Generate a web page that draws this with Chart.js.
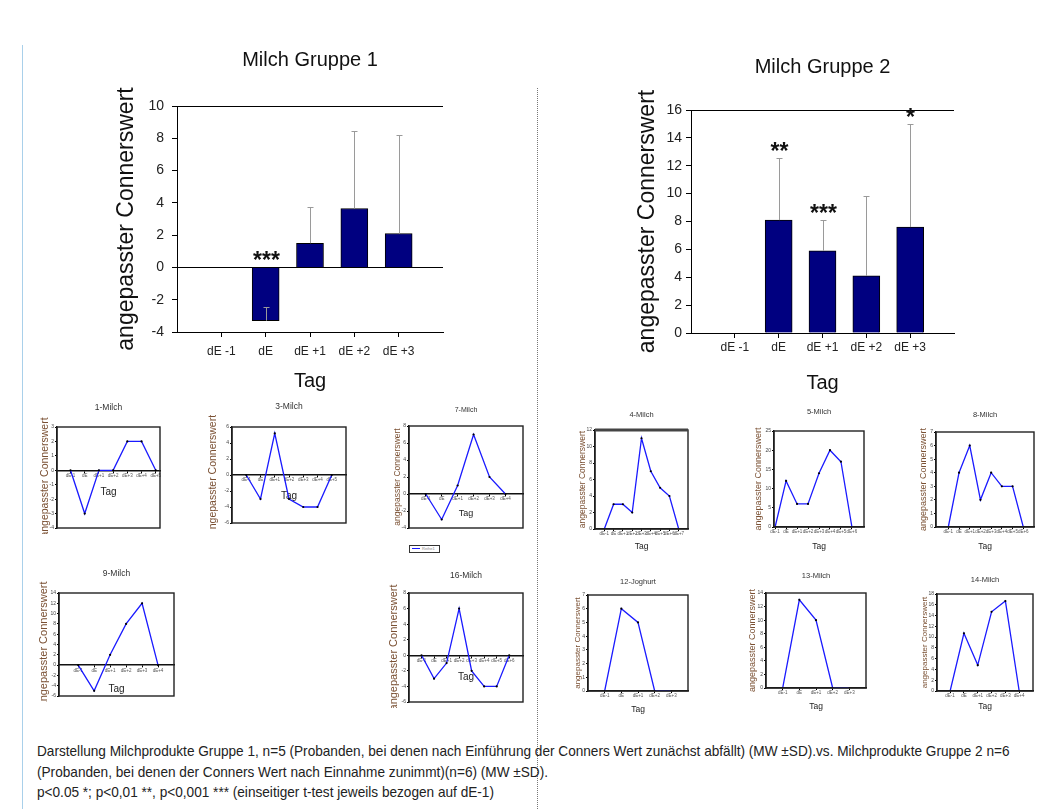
<!DOCTYPE html>
<html>
<head>
<meta charset="utf-8">
<script src="https://cdn.jsdelivr.net/npm/chart.js@4.4.1/dist/chart.umd.min.js"></script>
<style>
  html, body { margin: 0; padding: 0; background: #fff; }
  body { width: 1043px; height: 809px; position: relative; overflow: hidden; font-family: "Liberation Sans", Arial, sans-serif; }
  #stage { position: absolute; left: 0; top: 0; width: 1043px; height: 809px; }
  .margin-line { position: absolute; left: 22px; top: 45px; width: 0; height: 764px; border-left: 1px solid #a9d0ea; }
  .divider { position: absolute; left: 537px; top: 88px; width: 0; height: 721px; border-left: 1px dotted #777; }
  .legend7 { position: absolute; left: 409px; top: 545px; width: 29px; height: 6px; border: 1px solid #333; font-size: 4px; line-height: 6px; color: #888; white-space: nowrap; overflow: hidden; }
  .legend7 .mk { display: inline-block; width: 8px; height: 1px; background: #1a1aff; vertical-align: middle; margin: 0 2px 0 2px; }
  .caption { position: absolute; left: 37px; top: 741px; font-size: 15px; line-height: 20.5px; color: #222; white-space: nowrap; transform: scaleX(0.908); transform-origin: 0 0; }
</style>
</head>
<body>
<div id="stage">
  <div class="margin-line"></div>
  <div class="divider"></div>
  <div class="legend7"><span class="mk"></span>Reihe1</div>
  <div class="caption">
    Darstellung Milchprodukte Gruppe 1, n=5 (Probanden, bei denen nach Einführung der Conners Wert zunächst abfällt) (MW ±SD).vs. Milchprodukte Gruppe 2 n=6<br>
    (Probanden, bei denen der Conners Wert nach Einnahme zunimmt)(n=6) (MW ±SD).<br>
    p&lt;0.05 *; p&lt;0,01 **, p&lt;0,001 *** (einseitiger t-test jeweils bezogen auf dE-1)
  </div>
</div>
<script>
// ─── DATA ─────────────────────────────────────────────────────────────────
const MAIN_DAYS = ['dE -1', 'dE', 'dE +1', 'dE +2', 'dE +3'];

// Gruppe 1 (MW, obere SD-Grenze, Signifikanz)
const g1Mean = [null, -3.3, 1.5, 3.65, 2.1];
const g1SdTop = [null, -2.45, 3.75, 8.45, 8.2];
const g1Stars = ['', '***', '', '', ''];

// Gruppe 2
const g2Mean = [null, 8.1, 5.9, 4.1, 7.6];
const g2SdTop = [null, 12.55, 8.1, 9.85, 15.0];
const g2Stars = ['', '**', '***', '', '*'];

// Einzelverläufe
const SMALL_DAYS = ['dE-1', 'dE', 'dE+1', 'dE+2', 'dE+3', 'dE+4', 'dE+5', 'dE+6', 'dE+7'];
const milch1 = [0, -3, 0, 0, 2, 2, 0];
const milch3 = [0, -3, 5.2, -3, -4, -4, 0];
const milch7 = [0, -3, 1, 7, 2, 0];
const milch9 = [0, -5, 2, 8, 12, 0];
const milch16 = [0, -3, -1, 6, -2, -4, -4, 0];
const milch4 = [0, 3, 3, 2, 11, 7, 5, 4, 0];
const milch5 = [0, 12, 6, 6, 14, 20, 17, 0];
const milch8 = [0, 4, 6, 2, 4, 3, 3, 0];
const joghurt12 = [0, 6, 5, 0, 0];
const milch13 = [0, 13, 10, 0, 0];
const milch14 = [0, 10.7, 4.8, 14.7, 16.7, 0];

const Y_TITLE = 'angepasster Connerswert';
const SANS = '"Liberation Sans", Arial, sans-serif';

// ─── HELPERS ──────────────────────────────────────────────────────────────
function addCanvas(id, left, top, w, h) {
  const c = document.createElement('canvas');
  c.id = id;
  c.width = w; c.height = h;
  c.style.cssText = `position:absolute;left:${left}px;top:${top}px;width:${w}px;height:${h}px`;
  document.getElementById('stage').appendChild(c);
  return c;
}

const framePlugin = {
  id: 'frame',
  afterDraw(chart, args, o) {
    if (!o || !o.show) return;
    const { ctx, chartArea: a } = chart;
    ctx.save();
    ctx.strokeStyle = o.color || '#222';
    ctx.lineWidth = o.width || 1.5;
    ctx.strokeRect(a.left, a.top, a.right - a.left, a.bottom - a.top);
    if (o.topWidth) {
      ctx.lineWidth = o.topWidth;
      ctx.strokeStyle = '#444';
      ctx.beginPath(); ctx.moveTo(a.left, a.top); ctx.lineTo(a.right, a.top); ctx.stroke();
    }
    ctx.restore();
  }
};

const errorBarPlugin = {
  id: 'errbars',
  afterDatasetsDraw(chart, args, o) {
    const { ctx, scales: { x, y } } = chart;
    ctx.save();
    o.mean.forEach((m, i) => {
      if (m === null) return;
      const px = Math.round(x.getPixelForValue(i)) + 0.5;
      const y0 = y.getPixelForValue(m);
      const y1 = Math.round(y.getPixelForValue(o.top[i])) + 0.5;
      ctx.strokeStyle = '#9a9a9a';
      ctx.lineWidth = 1;
      ctx.beginPath();
      ctx.moveTo(px, y0); ctx.lineTo(px, y1);
      ctx.moveTo(px - 3, y1); ctx.lineTo(px + 3, y1);
      ctx.stroke();
      if (o.stars[i]) {
        const anchor = Math.max(m, o.top[i], 0);
        ctx.fillStyle = '#111';
        ctx.font = `bold 23px ${SANS}`;
        ctx.textAlign = 'center';
        ctx.textBaseline = 'alphabetic';
        ctx.fillText(o.stars[i], px, y.getPixelForValue(anchor) + 1);
      }
    });
    ctx.restore();
  }
};

// ─── MAIN BAR CHARTS ──────────────────────────────────────────────────────
function mainChart(id, s) {
  const [L, T, R, B] = s.plot;
  const titleSize = 20, yTitleSize = 23, tagSize = 20;
  const left = Math.round(s.yTitleX - yTitleSize / 2 - 2);
  const top = Math.round(s.titleY - titleSize / 2 - 2);
  const right = R + 12;
  const bottom = Math.round(s.tagY + tagSize / 2 + 2);
  const ML = L - left, MT = T - top, MB = bottom - B;
  addCanvas(id, left, top, right - left, bottom - top);

  return new Chart(document.getElementById(id), {
    type: 'bar',
    data: {
      datasets: [{
        data: s.mean.map((v, i) => ({ x: i, y: v })),
        backgroundColor: '#000080',
        borderColor: '#000',
        borderWidth: 1,
        barThickness: 27
      }]
    },
    options: {
      responsive: false, animation: false, events: [],
      layout: { padding: { left: 0, top: 0, right: right - R, bottom: 0 } },
      plugins: {
        legend: { display: false },
        tooltip: { enabled: false },
        title: {
          display: true, text: s.title, fullSize: false, color: '#111',
          font: { family: SANS, size: titleSize, weight: 'normal', lineHeight: 1 },
          padding: { top: 2, bottom: MT - 2 - titleSize }
        },
        errbars: { mean: s.mean, top: s.sdTop, stars: s.stars }
      },
      scales: {
        x: {
          type: 'linear', min: -1, max: 5, offset: false,
          afterBuildTicks: sc => { sc.ticks = MAIN_DAYS.map((_, i) => ({ value: i })); },
          afterFit: sc => { sc.height = MB; },
          grid: { drawOnChartArea: false, offset: false, tickLength: 5, tickColor: '#000' },
          border: { display: true, color: '#000', width: 1 },
          ticks: {
            autoSkip: false, maxRotation: 0, padding: s.xPad, color: '#222',
            font: { family: SANS, size: 12, lineHeight: 1 },
            callback: v => MAIN_DAYS[v] ?? ''
          },
          title: {
            display: true, text: 'Tag', color: '#111',
            font: { family: SANS, size: tagSize, lineHeight: 1 }, padding: { top: 0, bottom: 2 }
          }
        },
        y: {
          min: s.yMin, max: s.yMax,
          afterFit: sc => { sc.width = ML; },
          grid: {
            tickLength: 5, tickColor: '#000',
            color: c => (c.tick.value === 0 || c.tick.value === s.yMax) ? '#000' : 'transparent'
          },
          border: { display: true, color: '#000', width: 1 },
          ticks: {
            stepSize: 2, padding: s.yPad, color: '#222',
            font: { family: SANS, size: 14, lineHeight: 1 }
          },
          title: {
            display: true, text: Y_TITLE, color: '#111',
            font: { family: SANS, size: yTitleSize, lineHeight: 1 }, padding: { top: 2, bottom: 0 }
          }
        }
      }
    },
    plugins: [errorBarPlugin]
  });
}

mainChart('main1', {
  title: 'Milch Gruppe 1', mean: g1Mean, sdTop: g1SdTop, stars: g1Stars,
  yMin: -4, yMax: 10, plot: [177, 106, 443, 332],
  titleY: 60, yTitleX: 126, tagY: 381, xPad: 9, yPad: 8
});
mainChart('main2', {
  title: 'Milch Gruppe 2', mean: g2Mean, sdTop: g2SdTop, stars: g2Stars,
  yMin: 0, yMax: 16, plot: [691, 110, 954, 333],
  titleY: 67, yTitleX: 647, tagY: 383, xPad: 4, yPad: 4
});

// ─── SMALL LINE CHARTS ────────────────────────────────────────────────────
function smallChart(id, s) {
  const [L, T, R, B] = s.plot;
  const ts = s.titleSize || 7.5, yts = s.yTitleSize || 9, tag = s.tagSize || 8.5;
  const left = Math.round(s.yTitleX - yts / 2 - 1);
  const top = Math.round(s.titleY - ts / 2 - 1);
  const right = R + 8;
  const bottom = s.zero ? B + 6 : Math.round(s.tagY + tag / 2 + 1);
  const ML = L - left, MT = T - top, MB = bottom - B;
  addCanvas(id, left, top, right - left, bottom - top);
  const labels = SMALL_DAYS.slice(0, s.vals.length);

  return new Chart(document.getElementById(id), {
    type: 'line',
    data: {
      datasets: [{
        data: s.vals.map((v, i) => ({ x: i, y: v })),
        borderColor: '#1a1aff', borderWidth: 1.3, tension: 0,
        pointRadius: 1.1, pointBackgroundColor: '#000', pointBorderWidth: 0
      }]
    },
    options: {
      responsive: false, animation: false, events: [],
      layout: { padding: { left: 0, top: 0, right: right - R, bottom: s.zero ? MB : 0 } },
      plugins: {
        legend: { display: false },
        tooltip: { enabled: false },
        title: {
          display: true, text: s.title, fullSize: false, color: '#333',
          font: { family: SANS, size: ts, weight: 'normal', lineHeight: 1 },
          padding: { top: 1, bottom: MT - 1 - ts }
        },
        frame: { show: true, color: '#222', width: 1.4, topWidth: s.topW }
      },
      scales: {
        x: {
          type: 'linear', min: s.xMin, max: s.xMax, offset: false,
          position: s.zero ? { y: 0 } : 'bottom',
          afterBuildTicks: sc => { sc.ticks = labels.map((_, i) => ({ value: i })); },
          afterFit: sc => { sc.height = s.zero ? s.tagGap + tag / 2 + 1 : MB; },
          grid: { drawOnChartArea: false, offset: false, tickLength: 2, tickColor: '#000' },
          border: { display: true, color: '#111', width: 1.4 },
          ticks: {
            autoSkip: false, maxRotation: 0, padding: 1, color: '#555',
            font: { family: SANS, size: 4.5, lineHeight: 1 },
            callback: v => labels[v] ?? ''
          },
          title: {
            display: true, text: 'Tag', color: '#222',
            font: { family: SANS, size: tag, lineHeight: 1 }, padding: { top: 0, bottom: 1 }
          }
        },
        y: {
          min: s.yMin, max: s.yMax,
          afterFit: sc => { sc.width = ML; },
          grid: { drawOnChartArea: false, tickLength: 2, tickColor: '#000' },
          border: { display: true, color: '#111', width: 1.4 },
          ticks: {
            stepSize: s.yStep, autoSkip: false, padding: 1, color: '#444',
            font: { family: SANS, size: 5, lineHeight: 1 }
          },
          title: {
            display: true, text: Y_TITLE, color: '#7a5033',
            font: { family: SANS, size: yts, lineHeight: 1 }, padding: { top: 1, bottom: 0 }
          }
        }
      }
    },
    plugins: [framePlugin]
  });
}

// Gruppe 1
smallChart('s1', { title: '1-Milch', vals: milch1, yMin: -4, yMax: 3, yStep: 1, xMin: -0.95, xMax: 6.3,
  plot: [57, 427, 160, 528], titleY: 407, yTitleX: 45, zero: true, tagGap: 22, titleSize: 8.5, yTitleSize: 10.5, tagSize: 10 });
smallChart('s3', { title: '3-Milch', vals: milch3, yMin: -6, yMax: 6, yStep: 2, xMin: -1, xMax: 7,
  plot: [232, 427, 346, 523], titleY: 406, yTitleX: 213, zero: true, tagGap: 21, titleSize: 8.5, yTitleSize: 10.5, tagSize: 10 });
smallChart('s7', { title: '7-Milch', vals: milch7, yMin: -4, yMax: 8, yStep: 2, xMin: -1.05, xMax: 6.1,
  plot: [409, 426, 523, 528], titleY: 410, yTitleX: 397, zero: true, tagGap: 20, titleSize: 7, yTitleSize: 8.5, tagSize: 9 });
smallChart('s9', { title: '9-Milch', vals: milch9, yMin: -6, yMax: 14, yStep: 2, xMin: -1.2, xMax: 6,
  plot: [59, 593, 174, 696], titleY: 573, yTitleX: 43, zero: true, tagGap: 24, titleSize: 8.5, yTitleSize: 11, tagSize: 10 });
smallChart('s16', { title: '16-Milch', vals: milch16, yMin: -6, yMax: 8, yStep: 2, xMin: -1, xMax: 8.1,
  plot: [409, 593, 523, 702], titleY: 575, yTitleX: 393, zero: true, tagGap: 22, titleSize: 8.5, yTitleSize: 11, tagSize: 10 });

// Gruppe 2
smallChart('s4', { title: '4-Milch', vals: milch4, yMin: 0, yMax: 12, yStep: 2, xMin: -1, xMax: 9,
  plot: [595, 430, 688, 529], titleY: 415, yTitleX: 582, tagY: 547, topW: 3, yTitleSize: 8.5 });
smallChart('s5', { title: '5-Milch', vals: milch5, yMin: 0, yMax: 25, yStep: 5, xMin: -0.1, xMax: 8.1,
  plot: [774, 431, 864, 527], titleY: 412, yTitleX: 758, tagY: 547 });
smallChart('s8', { title: '8-Milch', vals: milch8, yMin: 0, yMax: 7, yStep: 1, xMin: -1.15, xMax: 8,
  plot: [936, 432, 1034, 527], titleY: 415, yTitleX: 923, tagY: 547 });
smallChart('s12', { title: '12-Joghurt', vals: joghurt12, yMin: 0, yMax: 7, yStep: 1, xMin: -1, xMax: 5,
  plot: [588, 595, 688, 691], titleY: 582, yTitleX: 578, tagY: 710, yTitleSize: 8 });
smallChart('s13', { title: '13-Milch', vals: milch13, yMin: 0, yMax: 14, yStep: 2, xMin: -1, xMax: 5,
  plot: [766, 593, 866, 688], titleY: 576, yTitleX: 752, tagY: 707 });
smallChart('s14', { title: '14-Milch', vals: milch14, yMin: 0, yMax: 18, yStep: 2, xMin: -0.95, xMax: 6,
  plot: [937, 594, 1033, 691], titleY: 580, yTitleX: 925, tagY: 707, yTitleSize: 8 });
</script>
</body>
</html>
